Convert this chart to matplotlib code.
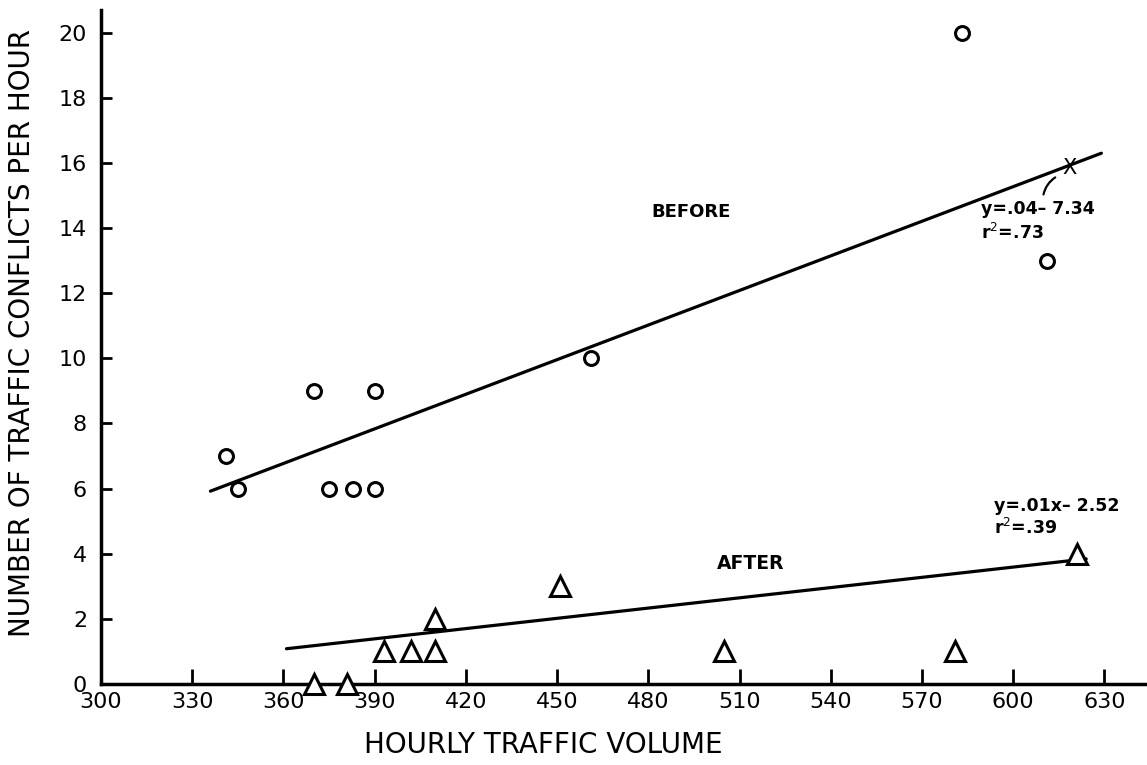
import numpy as np
import matplotlib
matplotlib.use('Agg')
import matplotlib.pyplot as plt

#  ---------------------------------------------------------  #
#  Data                                                       #
#  ---------------------------------------------------------  #
before_x = [341, 345, 370, 375, 383, 390, 390, 461, 583, 611]
before_y = [7, 6, 9, 6, 6, 9, 6, 10, 20, 13]

after_x = [370, 381, 393, 402, 410, 410, 451, 505, 581, 621]
after_y = [0, 0, 1, 1, 1, 2, 3, 1, 1, 4]

# fitted lines, end points as drawn
before_fit_x = [336, 629]
before_fit_y = [5.92, 16.3]
after_fit_x = [361, 624]
after_fit_y = [1.08, 3.84]

xticks = [300, 330, 360, 390, 420, 450, 480, 510, 540, 570, 600, 630]
yticks = [0, 2, 4, 6, 8, 10, 12, 14, 16, 18, 20]

#  ---------------------------------------------------------  #
#  Figure                                                     #
#  ---------------------------------------------------------  #
matplotlib.rc('font', family='DejaVu Sans')
fig = plt.figure(figsize=(11.47, 7.65), dpi=100)
ax1 = fig.add_axes([0.088, 0.106, 0.912, 0.881])

ax1.plot(before_fit_x, before_fit_y, 'k-', lw=2.3, solid_capstyle='round')
ax1.plot(after_fit_x, after_fit_y, 'k-', lw=2.3, solid_capstyle='round')

ax1.plot(before_x, before_y, 'o', ms=10, mfc='white', mec='black', mew=2.2,
         clip_on=False, zorder=3)
ax1.plot(after_x, after_y, '^', ms=14, mfc='white', mec='black', mew=2.2,
         clip_on=False, zorder=3)

ax1.text(494, 14.5, 'BEFORE', fontsize=13, fontweight='bold', ha='center', va='center')
ax1.text(513.5, 3.7, 'AFTER', fontsize=13.5, fontweight='bold', ha='center', va='center')

ax1.text(589.5, 14.6, 'y=.04\u2013 7.34', fontsize=12.5, fontweight='bold', ha='left', va='center')
ax1.text(589.5, 13.85, r'r$^2$=.73', fontsize=12.5, fontweight='bold', ha='left', va='center')
ax1.text(618.5, 15.85, 'X', fontsize=15, ha='center', va='center')
ax1.annotate('', xy=(609.8, 14.95), xytext=(614.6, 15.6),
             arrowprops=dict(arrowstyle='-', lw=1.6, color='black',
                             connectionstyle='arc3,rad=0.25'))

ax1.text(593.8, 5.45, 'y=.01x\u2013 2.52', fontsize=12.5, fontweight='bold', ha='left', va='center')
ax1.text(593.8, 4.8, r'r$^2$=.39', fontsize=12.5, fontweight='bold', ha='left', va='center')

#  ---------------------------------------------------------  #
#  Axes                                                       #
#  ---------------------------------------------------------  #
ax1.set_xlim(300, 644)
ax1.set_ylim(0, 20.7)
ax1.set_xticks(xticks)
ax1.set_yticks(yticks)
ax1.tick_params(axis='both', direction='in', width=2, labelsize=16)
ax1.tick_params(axis='x', length=11, pad=6)
ax1.tick_params(axis='y', length=8, pad=10)

for s in ['top', 'right']:
    ax1.spines[s].set_visible(False)
for s in ['left', 'bottom']:
    ax1.spines[s].set_linewidth(2.5)

ax1.set_xlabel('HOURLY TRAFFIC VOLUME', fontsize=20)
ax1.set_ylabel('NUMBER OF TRAFFIC CONFLICTS PER HOUR', fontsize=20)
ax1.xaxis.set_label_coords(0.4226, -0.0905)
ax1.yaxis.set_label_coords(-0.0755, 0.521)
ax1.xaxis.label.set_va('center')
ax1.yaxis.label.set_va('center')

plt.savefig('out.png', dpi=100)
